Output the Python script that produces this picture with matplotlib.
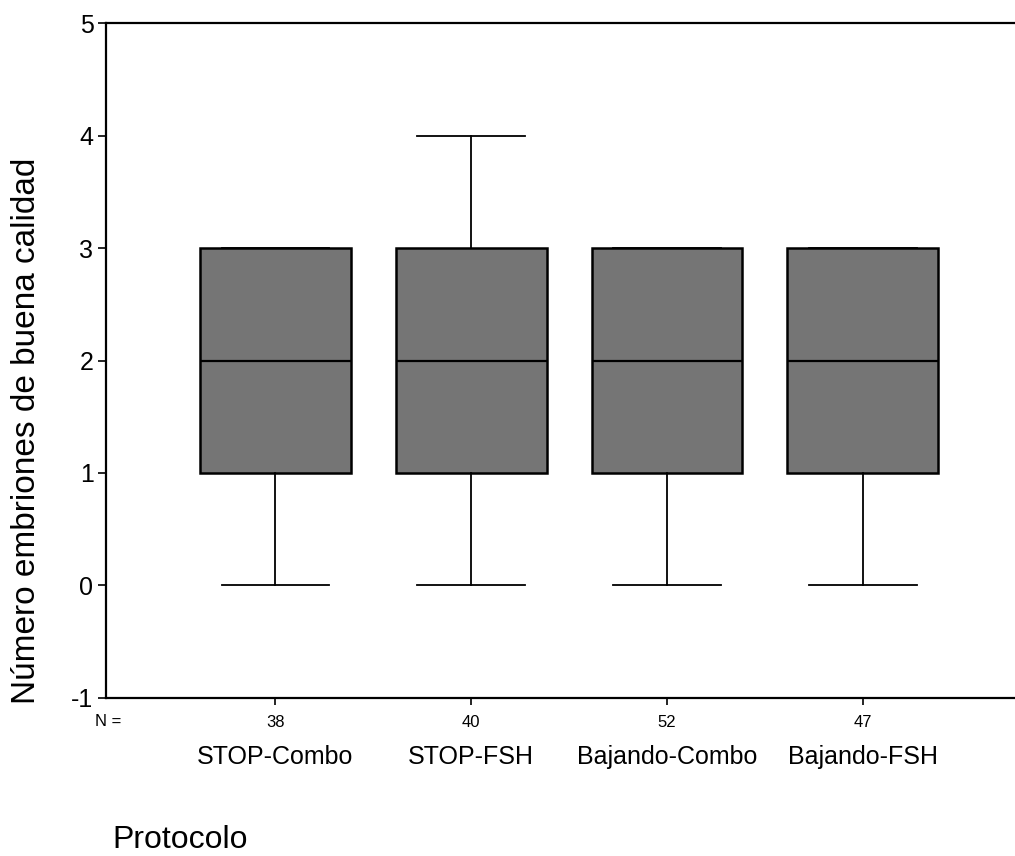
import numpy as np
import matplotlib
matplotlib.use("Agg")
import matplotlib.pyplot as plt

plt.rcParams["font.family"] = ["Liberation Sans", "DejaVu Sans"]
plt.rcParams["axes.unicode_minus"] = False

# boxplot summary values
protocols = ["STOP-Combo", "STOP-FSH", "Bajando-Combo", "Bajando-FSH"]
n_counts = [38, 40, 52, 47]
q1 = [1, 1, 1, 1]
medians = [2, 2, 2, 2]
q3 = [3, 3, 3, 3]
whis_lo = [0, 0, 0, 0]
whis_hi = [3, 4, 3, 3]

stats = []
for i, name in enumerate(protocols):
    stats.append(
        dict(
            label=name,
            q1=q1[i],
            med=medians[i],
            q3=q3[i],
            whislo=whis_lo[i],
            whishi=whis_hi[i],
            fliers=[],
        )
    )

fig = plt.figure(figsize=(10.15, 8.56), dpi=100)
ax = fig.add_axes([106 / 1015, 0.1846, 1 - 106 / 1015, 0.7885])

positions = np.arange(1, len(protocols) + 1)
ax.bxp(
    stats,
    positions=positions,
    widths=0.77,
    capwidths=0.55,
    patch_artist=True,
    showfliers=False,
    boxprops=dict(facecolor="#757575", edgecolor="black", linewidth=1.8),
    medianprops=dict(color="black", linewidth=1.6),
    whiskerprops=dict(color="black", linewidth=1.3),
    capprops=dict(color="black", linewidth=1.3),
)

ax.set_xlim(0.135, 4.778)
ax.set_ylim(-1, 5)
ax.set_yticks(range(-1, 6))
ax.tick_params(axis="y", direction="out", length=6, width=1.2, labelsize=18, pad=3)

ax.set_xticks(positions)
ax.set_xticklabels([str(n) for n in n_counts])
ax.tick_params(axis="x", direction="out", length=5, width=1.2, labelsize=12, pad=7)

ax.spines["right"].set_visible(False)
for side in ["left", "bottom", "top"]:
    ax.spines[side].set_linewidth(1.6)

# category names under the N row
for x, name in zip(positions, protocols):
    ax.annotate(
        name,
        xy=(x, 0),
        xycoords=ax.get_xaxis_transform(),
        xytext=(0, -42.5),
        textcoords="offset points",
        ha="center",
        va="center",
        fontsize=18,
    )

fig.text(95 / 1015, 1 - 721 / 856, "N =", fontsize=12, ha="left", va="center")
fig.text(112 / 1015, 1 - 848 / 856, "Protocolo", fontsize=23, ha="left", va="baseline")
fig.text(
    27 / 1015,
    1 - 431 / 856,
    "Número embriones de buena calidad",
    fontsize=24,
    rotation=90,
    ha="center",
    va="center",
)

fig.savefig("out.png", dpi=100)
